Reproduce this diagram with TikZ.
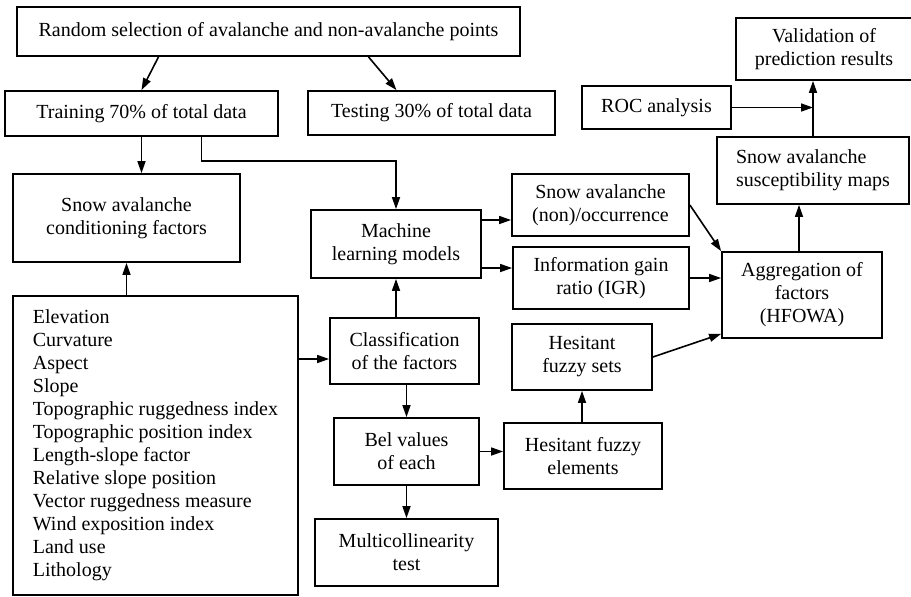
\documentclass[tikz,border=0pt]{standalone}
\usepackage{fontspec}
\setmainfont{Liberation Serif}
\usetikzlibrary{arrows.meta}
\tikzstyle{box} = [draw=black, line width=0.9pt, align=center, inner sep=2pt]
\tikzstyle{arrow} = [line width=0.8pt, -{Triangle[length=6pt,width=4pt]}]

\begin{document}
\begin{tikzpicture}[x=0.5pt, y=-0.5pt, font=\fontsize{10}{11.5}\selectfont]
      \useasboundingbox (0,0) rectangle (911,596);
      % data split
      \node[box, minimum width=251.5pt, minimum height=24.5pt] (rand) at (268.5,31.5) {Random selection of avalanche and non-avalanche points};
      \node[box, minimum width=136.5pt, minimum height=22.5pt] (train) at (141.5,113.5) {Training 70\% of total data};
      \node[box, minimum width=123.5pt, minimum height=22pt] (test) at (431.5,113) {Testing 30\% of total data};
      % factors
      \node[box, minimum width=113.5pt, minimum height=44pt] (cond) at (126.5,218) {Snow avalanche\\conditioning factors};
      \node[box, align=left, minimum width=142.5pt, minimum height=149.5pt] (big) at (155.5,445.5) {Elevation\\Curvature\\Aspect\\Slope\\Topographic ruggedness index\\Topographic position index\\Length-slope factor\\Relative slope position\\Vector ruggedness measure\\Wind exposition index\\Land use\\Lithology};
      % middle column
      \node[box, minimum width=85pt, minimum height=34pt] (ml) at (396,244) {Machine\\learning models};
      \node[box, minimum width=74.5pt, minimum height=33pt] (class) at (404.5,351) {Classification\\of the factors};
      \node[box, minimum width=72.5pt, minimum height=33.5pt] (bel) at (406.5,451.5) {Bel values\\of each};
      \node[box, minimum width=91.5pt, minimum height=33.5pt] (multi) at (406.5,552.5) {Multicollinearity\\test};
      % right part
      \node[box, minimum width=88.5pt, minimum height=31pt] (snow) at (600.5,205) {Snow avalanche\\(non)/occurrence};
      \node[box, minimum width=88pt, minimum height=31pt] (igr) at (601,278) {Information gain\\ratio (IGR)};
      \node[box, minimum width=70pt, minimum height=33pt] (hfs) at (582,357) {Hesitant\\fuzzy sets};
      \node[box, minimum width=79pt, minimum height=33pt] (hfe) at (583,456) {Hesitant fuzzy\\elements};
      \node[box, minimum width=80pt, minimum height=43pt] (agg) at (802,295) {Aggregation of\\factors\\(HFOWA)};
      \node[box, align=left, minimum width=96pt, minimum height=33.5pt] (susc) at (813,170.5) {Snow avalanche\\susceptibility maps};
      \node[box, minimum width=74.5pt, minimum height=21.5pt] (roc) at (656.5,107.5) {ROC analysis};
      \node[box, minimum width=88pt, minimum height=31pt] (val) at (824,49) {Validation of\\prediction results};
      % arrows
      \draw[arrow] ([xshift=-55pt]rand.south) -- (train.north);
      \draw[arrow] ([xshift=50pt]rand.south) -- ([xshift=-17.5pt]test.north);
      \draw[arrow] (train.south) -- (train.south |- cond.north);
      \draw[arrow] ([xshift=30pt]train.south) -- ++(0,24) -| (ml.north);
      \draw[arrow] (cond.south |- big.north) -- (cond.south);
      \draw[arrow] ([yshift=-4pt]class.west -| big.east) -- ([yshift=-4pt]class.west);
      \draw[arrow] (class.north -| ml.south) -- (ml.south);
      \draw[arrow] (bel.north |- class.south) -- (bel.north);
      \draw[arrow] (bel.south) -- (bel.south |- multi.north);
      \draw[arrow] (bel.east) -- (bel.east -| hfe.west);
      \draw[arrow] (hfs.south |- hfe.north) -- (hfs.south);
      \draw[arrow] ([yshift=12pt]ml.east) -- ([yshift=12pt]ml.east -| snow.west);
      \draw[arrow] ([yshift=-12pt]ml.east) -- ([yshift=-12pt]ml.east -| igr.west);
      \draw[arrow] (snow.east) -- (agg.north west);
      \draw[arrow] (igr.east) -- (igr.east -| agg.west);
      \draw[arrow] (hfs.east) -- ([yshift=2.5pt]agg.south west);
      \draw[arrow] ([xshift=-1.5pt]agg.north) -- ([xshift=-1.5pt]agg.north |- susc.south);
      \draw[arrow] (susc.north) -- (susc.north |- val.south);
      \draw[arrow] (roc.east) -- (roc.east -| susc.north);
\end{tikzpicture}
\end{document}
